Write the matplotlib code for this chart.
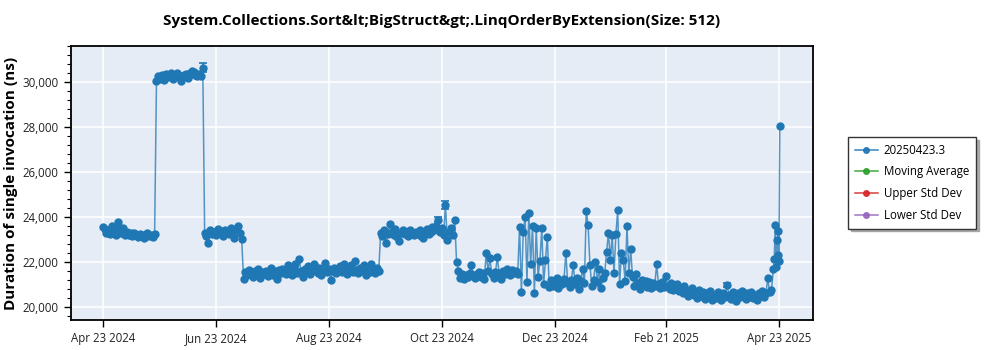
import numpy as np
import pandas as pd
import matplotlib
matplotlib.use("Agg")
import matplotlib.pyplot as plt
import matplotlib.dates as mdates
from matplotlib.lines import Line2D
from matplotlib.ticker import FuncFormatter, MultipleLocator

plt.rcParams['font.family'] = ['Open Sans', 'DejaVu Sans']

title = "System.Collections.Sort&lt;BigStruct&gt;.LinqOrderByExtension(Size: 512)"
y_label = "Duration of single invocation (ns)"
legend_names = ["20250423.3", "Moving Average", "Upper Std Dev", "Lower Std Dev"]
legend_colors = ["#1f77b4", "#2ca02c", "#d62728", "#9467bd"]

# Daily results starting 2024-04-23, split by performance regime
first_day = "2024-04-23"
regime_a = [23550, 23480, 23300, 23420, 23250, 23600, 23380, 23200, 23780, 23450,
            23300, 23500, 23220, 23350, 23180, 23280, 23150, 23300, 23200, 23100,
            23250, 23180, 23050, 23220, 23300, 23150, 23200, 23100, 23250]
regime_b = [30050, 30250, 30150, 30300, 30100, 30350, 30200, 30280, 30400, 30150,
            30300, 30380, 30200, 30050, 30250, 30300, 30350, 30180, 30420, 30500,
            30450, 30300, 30250, 30350, 30280, 30640]
regime_c = [23300, 23150, 22840, 23400, 23250, 23350, 23200, 23450, 23300, 23380,
            23150, 23420, 23300, 23250, 23500, 23350, 23050, 23400, 23600, 23300,
            23000]
regime_d = [21250, 21550, 21400, 21650, 21500, 21350, 21600, 21450, 21700, 21300,
            21550, 21480, 21620, 21380, 21500, 21750, 21420, 21580, 21250, 21650,
            21500, 21700, 21600, 21450, 21850, 21550, 21400, 21680, 21900, 21520,
            22150, 21600, 21350, 21700, 21550, 21800, 21450, 21650, 21900, 21600,
            21500, 21750, 21400, 21620, 21950, 21550, 21700, 21200, 21600, 21750,
            21500, 21650, 21800, 21550, 21900, 21600, 21450, 21700, 21850, 21550,
            22050, 21650, 21500, 21750, 21600, 21850, 21400, 21700, 21550, 21900,
            21650, 21500, 21750, 21600]
regime_e = [23300, 23150, 23400, 22850, 23250, 23700, 23350, 23200, 23450, 23100,
            22950, 23300, 23400, 23250, 23350, 23150, 23400, 23300, 23200, 23350,
            23250, 23400, 23150, 23050, 23300, 23450, 23250, 23350, 23550, 23400,
            23600, 23880, 23350, 23500, 23200, 24530, 22980, 23350, 23500, 23200,
            23870]
regime_f = [22000, 21600, 21300, 21450, 21250, 21400, 21350, 21500, 21870, 21400,
            21300, 21450, 21550, 21350, 21500, 21250, 22400, 21600, 22160, 21450,
            21300, 21550, 22200, 21500, 21250, 21600, 21450, 21700, 21550, 21400,
            21650, 21500, 21600, 21450]
regime_g = [23570, 20650, 23350, 24010, 21100, 24190, 21900, 23610, 20620, 23500,
            21350, 22050, 23500, 21000, 22100, 23120, 20900]
regime_h = [21200, 20950, 21100, 21300, 20850, 21150, 21000, 21250, 22410, 21050,
            20900, 21200, 21870, 21000, 21300, 20800, 21150, 21680, 21050, 24280,
            23640, 21870, 20950, 21200, 22010, 21100, 21680, 20850, 21300, 21520,
            22460, 23300, 22090, 23200, 21520, 23230, 24310, 21000, 22380, 22090,
            21150, 23600, 21500, 22560, 21320, 20950, 21470, 21050, 20800, 21200,
            21000, 21150, 20900, 21100, 20850, 21050, 20950, 21910]
regime_i = [21000, 20850, 21100, 20900, 21380, 20950, 20800, 21050, 20750, 20900,
            21000, 20700, 20850, 20600, 20950, 20750, 20500, 20700, 20850, 20550,
            20650, 20400, 20750, 20500, 20650, 20350, 20600, 20450, 20700, 20300,
            20550, 20400, 20650, 20500, 20300, 20600, 20450, 20980, 20550, 20350,
            20650, 20500, 20250, 20600, 20450, 20700, 20500, 20350, 20600, 20450,
            20650, 20400, 20550, 20300, 20600, 20500, 20700, 20450, 20600, 21270,
            20650, 20750]

# Several runs per day in the final days
tail_times = ["2025-04-20 00:00", "2025-04-20 12:00", "2025-04-21 00:00",
              "2025-04-21 12:00", "2025-04-22 00:00", "2025-04-22 08:00",
              "2025-04-22 16:00", "2025-04-23 00:00", "2025-04-23 12:00"]
tail_values = [21700, 22120, 23640, 21760, 22980, 22310, 23390, 22060, 28040]

# Runs whose measurement spread is wider than the marker
spread = {"2024-06-16": 190, "2024-10-21": 100, "2024-10-25": 190, "2025-03-26": 100}

tick_dates = ["2024-04-23", "2024-06-23", "2024-08-23", "2024-10-23",
              "2024-12-23", "2025-02-21", "2025-04-23"]
x_range = ("2024-04-05 14:00", "2025-05-11 10:00")
y_range = (19420, 31600)

daily = regime_a + regime_b + regime_c + regime_d + regime_e + regime_f + regime_g + regime_h + regime_i
dates = list(pd.date_range(first_day, periods=len(daily), freq="D")) + list(pd.to_datetime(tail_times))
values = daily + tail_values
series = pd.Series(values, index=pd.DatetimeIndex(dates))

blue = legend_colors[0]
fig = plt.figure(figsize=(10, 3.5), dpi=100)
ax = fig.add_axes([0.0705, 0.0857, 0.7425, 0.7829])
ax.set_facecolor("#E5ECF6")

ax.plot(series.index, series.values, color=blue, lw=1.1, alpha=0.75, zorder=3)
ax.plot(series.index, series.values, ls="none", marker="o", ms=5,
        color=blue, zorder=4)

err_dates = pd.to_datetime(list(spread.keys()))
err_vals = series.loc[err_dates].values
ax.errorbar(err_dates, err_vals, yerr=list(spread.values()), fmt="none",
            ecolor=blue, elinewidth=1.2, capsize=2.8, capthick=1.2, zorder=4)

ax.set_xlim(pd.Timestamp(x_range[0]), pd.Timestamp(x_range[1]))
ax.set_ylim(*y_range)
ax.set_xticks(pd.to_datetime(tick_dates))
ax.xaxis.set_major_formatter(mdates.DateFormatter("%b %d %Y"))
ax.yaxis.set_major_locator(MultipleLocator(2000))
ax.yaxis.set_minor_locator(MultipleLocator(400))
ax.yaxis.set_major_formatter(FuncFormatter(lambda v, p: f"{int(v):,}"))

ax.grid(True, which="major", color="white", lw=1.1, zorder=0)
ax.set_axisbelow(True)
for s in ax.spines.values():
    s.set_color("black")
    s.set_linewidth(1.3)
ax.tick_params(axis="both", which="major", length=5, width=1, color="black",
               labelsize=8.3, labelcolor="#222222")
ax.tick_params(axis="y", which="minor", length=3, width=0.8, color="black")

ax.set_ylabel(y_label, fontsize=11, fontweight="bold", labelpad=3)
ax.set_title(title, fontsize=11, fontweight="bold", pad=15)

handles = [Line2D([0], [0], color=c, lw=1.1, marker="o", ms=4, alpha=0.9)
           for c in legend_colors]
leg = fig.legend(handles, legend_names, loc="upper left",
                 bbox_to_anchor=(0.848, 0.609), fontsize=8.3, frameon=True,
                 fancybox=False, shadow={"color": "#9a9a9a", "alpha": 0.8},
                 handlelength=2.0, labelspacing=0.75, borderpad=0.6,
                 handletextpad=0.5, borderaxespad=0)
leg.get_frame().set_edgecolor("#333333")
leg.get_frame().set_linewidth(1.0)

fig.savefig("out.png", dpi=100)
